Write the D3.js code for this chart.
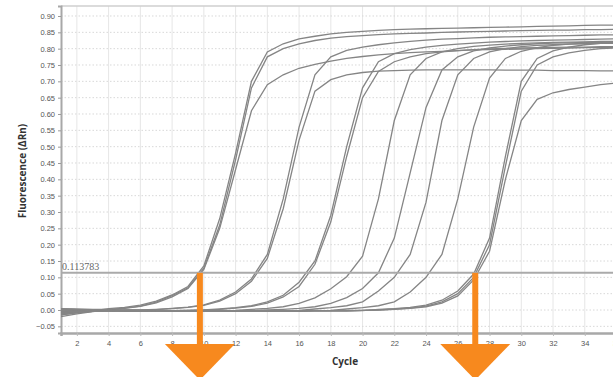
<!DOCTYPE html>
<html>
<head>
<meta charset="utf-8">
<script src="https://cdn.jsdelivr.net/npm/d3@7"></script>
<style>
  body { margin: 0; background: #fff; }
  svg { display: block; }
</style>
</head>
<body>
<div id="chart-area"></div>
<script>
// amplification plot - cycles vs fluorescence, threshold + Ct arrows

const cycles = [1,2,3,4,5,6,7,8,9,10,11,12,13,14,15,16,17,18,19,20,21,22,23,24,25,26,27,28,29,30,31,32,33,34,35,36,37,38,39,40]

const xTicks = [2,4,6,8,10,12,14,16,18,20,22,24,26,28,30,32,34,36]
const yTicks = [-0.05,0,0.05,0.10,0.15,0.20,0.25,0.30,0.35,0.40,0.45,0.50,0.55,0.60,0.65,0.70,0.75,0.80,0.85,0.90]

const threshold = 0.113783
const arrowCycles = [9.75, 27.1]

const a1 = [-0.015,-0.008,-0.003,0.004,0.008,0.015,0.027,0.046,0.072,0.135, 0.28,0.48,0.70,0.79,0.815,0.83,0.838,0.845,0.85,0.853, 0.856,0.858,0.86,0.861,0.862,0.863,0.864,0.865,0.866,0.867, 0.868,0.869,0.87,0.871,0.872,0.872,0.873,0.873,0.874,0.874]
const a2 = [-0.02,-0.012,-0.005,0.001,0.006,0.012,0.024,0.044,0.068,0.128, 0.26,0.46,0.68,0.775,0.80,0.815,0.825,0.832,0.837,0.84, 0.843,0.845,0.847,0.848,0.85,0.851,0.852,0.853,0.854,0.855, 0.856,0.857,0.857,0.858,0.858,0.859,0.859,0.86,0.86,0.86]
const a3 = [0.004,0.003,0.002,0.002,0.005,0.011,0.022,0.040,0.066,0.124, 0.25,0.43,0.61,0.69,0.72,0.74,0.752,0.762,0.77,0.776, 0.781,0.785,0.788,0.79,0.792,0.794,0.796,0.797,0.798,0.799, 0.80,0.801,0.802,0.803,0.803,0.804,0.804,0.805,0.805,0.805]
const b1 = [-0.01,-0.006,-0.003,-0.001,0.0,0.0,0.002,0.005,0.009,0.016, 0.03,0.055,0.095,0.17,0.34,0.56,0.72,0.775,0.795,0.805, 0.812,0.818,0.822,0.826,0.829,0.831,0.833,0.835,0.836,0.837, 0.838,0.839,0.84,0.841,0.842,0.842,0.843,0.843,0.844,0.844]
const b2 = [-0.015,-0.009,-0.004,-0.001,0.0,0.0,0.001,0.004,0.008,0.014, 0.027,0.05,0.088,0.158,0.31,0.52,0.67,0.705,0.72,0.727, 0.731,0.733,0.734,0.735,0.735,0.735,0.735,0.735,0.734,0.734, 0.734,0.733,0.733,0.733,0.732,0.732,0.732,0.732,0.731,0.731]
const c1 = [0.002,0.001,0.0,0.0,-0.001,-0.002,-0.002,-0.002,-0.001,0.0, 0.003,0.007,0.013,0.025,0.045,0.085,0.15,0.29,0.50,0.68, 0.76,0.785,0.797,0.805,0.81,0.814,0.817,0.82,0.822,0.824, 0.825,0.826,0.827,0.828,0.829,0.83,0.83,0.831,0.831,0.832]
const c2 = [-0.005,-0.004,-0.003,-0.002,-0.002,-0.002,-0.002,-0.002,-0.001,0.0, 0.002,0.006,0.011,0.021,0.04,0.072,0.14,0.27,0.47,0.65, 0.73,0.76,0.775,0.785,0.79,0.794,0.797,0.799,0.801,0.802, 0.803,0.804,0.805,0.805,0.806,0.806,0.807,0.807,0.807,0.808]
const d1 = [0.001,0.0,0.0,-0.001,-0.002,-0.003,-0.003,-0.003,-0.003,-0.002, -0.002,-0.001,0.002,0.005,0.01,0.02,0.037,0.065,0.102,0.165, 0.34,0.58,0.72,0.77,0.79,0.80,0.807,0.811,0.814,0.816, 0.818,0.819,0.82,0.821,0.822,0.822,0.823,0.823,0.824,0.824]
const e1 = [-0.003,-0.002,-0.002,-0.002,-0.003,-0.003,-0.003,-0.003,-0.003,-0.003, -0.003,-0.002,-0.001,0.0,0.002,0.005,0.01,0.02,0.038,0.066, 0.114,0.22,0.42,0.62,0.735,0.775,0.793,0.802,0.808,0.812, 0.815,0.817,0.818,0.819,0.82,0.82,0.821,0.821,0.821,0.822]
const f1 = [0.0,-0.001,-0.002,-0.003,-0.003,-0.004,-0.004,-0.004,-0.004,-0.004, -0.004,-0.004,-0.003,-0.003,-0.002,-0.001,0.003,0.007,0.013,0.025, 0.058,0.1,0.17,0.33,0.58,0.72,0.77,0.79,0.80,0.806, 0.81,0.812,0.814,0.815,0.816,0.816,0.817,0.817,0.817,0.818]
const g1 = [-0.008,-0.005,-0.003,-0.002,-0.002,-0.003,-0.003,-0.003,-0.003,-0.003, -0.003,-0.003,-0.003,-0.003,-0.003,-0.002,-0.002,-0.001,0.003,0.007, 0.013,0.025,0.055,0.1,0.17,0.34,0.56,0.71,0.77,0.792, 0.803,0.81,0.814,0.817,0.819,0.82,0.821,0.822,0.822,0.823]
const h1 = [-0.012,-0.007,-0.004,-0.002,-0.002,-0.003,-0.003,-0.004,-0.004,-0.004, -0.004,-0.004,-0.004,-0.004,-0.004,-0.004,-0.003,-0.003,-0.003,-0.002, 0.002,0.004,0.008,0.015,0.03,0.058,0.11,0.22,0.47,0.70, 0.77,0.793,0.805,0.812,0.816,0.819,0.82,0.821,0.822,0.822]
const h2 = [-0.006,-0.004,-0.003,-0.003,-0.003,-0.003,-0.003,-0.003,-0.003,-0.003, -0.003,-0.003,-0.003,-0.003,-0.003,-0.003,-0.002,-0.002,-0.002,-0.001, 0.0,0.003,0.006,0.012,0.025,0.05,0.1,0.2,0.44,0.67, 0.75,0.775,0.787,0.795,0.80,0.802,0.804,0.805,0.805,0.806]
const h3 = [0.003,0.001,0.0,-0.001,-0.002,-0.002,-0.003,-0.003,-0.003,-0.003, -0.003,-0.003,-0.003,-0.003,-0.003,-0.003,-0.002,-0.002,-0.002,-0.001, 0.0,0.002,0.005,0.01,0.021,0.043,0.092,0.18,0.40,0.58, 0.645,0.665,0.675,0.682,0.69,0.695,0.698,0.70,0.702,0.703]

const series = [a1, a2, a3, b1, b2, c1, c2, d1, e1, f1, g1, h1, h2, h3]

const W = 613, H = 377
const PLOT = {LEFT: 61, RIGHT: 680, TOP: 6, BOTTOM: 333}

const svg = d3.select("#chart-area").append("svg")
    .attr("width", W)
    .attr("height", H)

const x = d3.scaleLinear()
    .domain([1, 40])
    .range([PLOT.LEFT, PLOT.RIGHT])

const y = d3.scaleLinear()
    .domain([-0.0704, 0.9306])
    .range([PLOT.BOTTOM, PLOT.TOP])

svg.append("defs").append("clipPath").attr("id", "clip")
  .append("rect")
    .attr("x", PLOT.LEFT)
    .attr("y", PLOT.TOP)
    .attr("width", PLOT.RIGHT - PLOT.LEFT)
    .attr("height", PLOT.BOTTOM - PLOT.TOP)

// grid
const grid = svg.append("g")
grid.selectAll(".vg").data(xTicks).enter().append("line")
    .attr("x1", d => x(d)).attr("x2", d => x(d))
    .attr("y1", PLOT.TOP).attr("y2", PLOT.BOTTOM)
    .attr("stroke", "#e6e6e6")
    .attr("stroke-width", 1)
grid.selectAll(".hg").data(yTicks).enter().append("line")
    .attr("x1", PLOT.LEFT).attr("x2", PLOT.RIGHT)
    .attr("y1", d => y(d)).attr("y2", d => y(d))
    .attr("stroke", "#d8d8d8")
    .attr("stroke-width", 1)
    .attr("stroke-dasharray", "1.5,2")

// top border
svg.append("line")
    .attr("x1", PLOT.LEFT).attr("x2", W)
    .attr("y1", PLOT.TOP).attr("y2", PLOT.TOP)
    .attr("stroke", "#cfcfcf")
    .attr("stroke-width", 1.5)

// axes
const xAxisCall = d3.axisBottom(x)
    .tickValues(xTicks)
    .tickSize(3)
    .tickFormat(d3.format("d"))
const xAxis = svg.append("g")
    .attr("transform", `translate(0, ${PLOT.BOTTOM})`)
    .call(xAxisCall)
xAxis.select(".domain").attr("stroke", "#a8a8a8").attr("stroke-width", 2.5)
xAxis.selectAll(".tick line").attr("stroke", "#bbb")
xAxis.selectAll("text")
    .attr("fill", "#555")
    .attr("font-size", "7.5px")
    .attr("font-family", "Liberation Sans, Arial, sans-serif")
    .attr("dy", "0.9em")

const yAxisCall = d3.axisLeft(y)
    .tickValues(yTicks)
    .tickSize(3)
    .tickFormat(d3.format(".2f"))
const yAxis = svg.append("g")
    .attr("transform", `translate(${PLOT.LEFT}, 0)`)
    .call(yAxisCall)
yAxis.select(".domain").attr("stroke", "#a8a8a8").attr("stroke-width", 2)
yAxis.selectAll(".tick line").attr("stroke", "#999")
yAxis.selectAll("text")
    .attr("fill", "#555")
    .attr("font-size", "7.5px")
    .attr("font-family", "Liberation Sans, Arial, sans-serif")

// curves
const line = d3.line()
    .x((d, i) => x(cycles[i]))
    .y(d => y(d))

svg.append("g")
    .attr("clip-path", "url(#clip)")
  .selectAll("path")
    .data(series)
  .enter().append("path")
    .attr("d", line)
    .attr("fill", "none")
    .attr("stroke", "#858585")
    .attr("stroke-width", 1.3)

// threshold
svg.append("line")
    .attr("x1", PLOT.LEFT).attr("x2", W)
    .attr("y1", y(threshold)).attr("y2", y(threshold))
    .attr("stroke", "#aaaaaa")
    .attr("stroke-width", 2)
svg.append("text")
    .attr("x", PLOT.LEFT + 1)
    .attr("y", y(threshold) - 3)
    .attr("font-family", "Liberation Serif, Times New Roman, serif")
    .attr("font-size", "10px")
    .attr("fill", "#666")
    .text(threshold.toString())

// labels
svg.append("text")
    .attr("x", 345)
    .attr("y", 365)
    .attr("text-anchor", "middle")
    .attr("font-family", "Open Sans, sans-serif")
    .attr("font-weight", "bold")
    .attr("font-size", "10px")
    .attr("fill", "#333")
    .text("Cycle")

svg.append("text")
    .attr("transform", "rotate(-90)")
    .attr("x", -171)
    .attr("y", 26)
    .attr("text-anchor", "middle")
    .attr("font-family", "Open Sans, sans-serif")
    .attr("font-weight", "bold")
    .attr("font-size", "10px")
    .attr("fill", "#333")
    .text("Fluorescence (ΔRn)")

// orange Ct arrows
const arrows = svg.append("g")
arrowCycles.forEach(c => {
    const cx = x(c)
    arrows.append("rect")
        .attr("x", cx - 3)
        .attr("y", y(threshold))
        .attr("width", 6)
        .attr("height", 345 - y(threshold))
        .attr("fill", "#F7891E")
    arrows.append("path")
        .attr("d", `M${cx - 35},344 L${cx + 35},344 L${cx},380 Z`)
        .attr("fill", "#F7891E")
})
</script>
</body>
</html>
